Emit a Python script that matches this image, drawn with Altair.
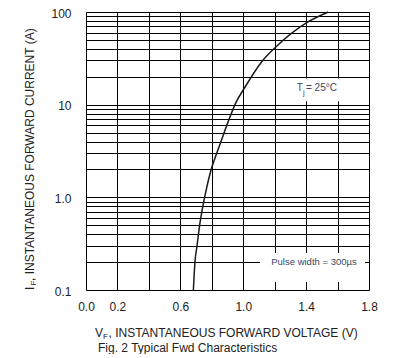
import altair as alt
import pandas as pd

# Curve values (forward voltage V, forward current A)
vf = [0.683, 0.693, 0.706, 0.725, 0.740, 0.768, 0.800, 0.832, 0.867, 0.905,
      0.958, 1.001, 1.118, 1.209, 1.404, 1.541]
i_f = [0.1, 0.2, 0.3, 0.53, 0.75, 1.28, 2.1, 3.0, 4.4, 6.6,
       10.9, 14.5, 29.1, 42.2, 76.8, 100.0]

# Grid / tick values
x_grid = [0.0, 0.2, 0.4, 0.6, 0.8, 1.0, 1.2, 1.4, 1.6, 1.8]
x_hidden = ["0.4", "0.8", "1.2", "1.6"]
y_grid = [0.1, 0.2, 0.3, 0.4, 0.5, 0.6, 0.7, 0.8, 0.9,
          1, 2, 3, 4, 5, 6, 7, 8, 9,
          10, 20, 30, 40, 50, 60, 70, 80, 90, 100]

# Annotation boxes (white background behind labels) in data units
box_x0 = [1.31, 1.107]
box_x1 = [1.63, 1.775]
box_y0 = [10.9, 0.122]
box_y1 = [19.2, 0.25]

FONT = "Liberation Sans"
TXT = "#222222"
ANN = "#3c4660"

curve_df = pd.DataFrame({"volt": vf, "cur": i_f})
box_df = pd.DataFrame({"volt": box_x0, "volt2": box_x1, "cur": box_y0, "cur2": box_y1})

xscale = alt.Scale(domain=[0, 1.8], nice=False, zero=False)
yscale = alt.Scale(type="log", domain=[0.1, 100], nice=False)

hidden_list = "[" + ",".join("'" + h + "'" for h in x_hidden) + "]"
xaxis = alt.Axis(
    values=x_grid, grid=True, gridColor="black", gridWidth=1, gridOpacity=1,
    domain=False, ticks=False, title=None, labelFlush=False, labelOverlap=False,
    labelExpr="indexof(" + hidden_list + ", format(datum.value, '.1f')) >= 0 ? '' : format(datum.value, '.1f')",
    labelPadding=11, labelFontSize=12, labelFont=FONT, labelColor=TXT,
)
yaxis = alt.Axis(
    values=y_grid, grid=True, gridColor="black", gridWidth=1, gridOpacity=1,
    domain=False, ticks=False, title=None, labelFlush=False, labelOverlap=False,
    labelOffset=1,
    labelExpr="datum.value == 0.1 ? '0.1' : datum.value == 1 ? '1.0' : datum.value == 10 ? '10' : datum.value == 100 ? '100' : ''",
    labelPadding=15, labelFontSize=12, labelFont=FONT, labelColor=TXT,
)

boxes = alt.Chart(box_df).mark_rect(color="white", opacity=1).encode(
    x=alt.X("volt:Q", scale=xscale, axis=xaxis),
    x2="volt2:Q",
    y=alt.Y("cur:Q", scale=yscale, axis=yaxis),
    y2="cur2:Q",
)

curve = alt.Chart(curve_df).mark_line(
    color="#1a1a1a", strokeWidth=1.5, interpolate="monotone"
).encode(
    x=alt.X("volt:Q", scale=xscale, axis=xaxis),
    y=alt.Y("cur:Q", scale=yscale, axis=yaxis),
)

# In-plot annotations (data coordinates)
ann_df = pd.DataFrame({
    "volt": [1.340, 1.381, 1.399, 1.450],
    "cur": [15.0, 13.4, 15.0, 0.2],
    "txt": ["T", "j", "= 25°C", "Pulse width = 300µs"],
    "size": [10, 7.5, 10, 9.5],
    "al": ["left", "left", "left", "center"],
})

def ann(row):
    return alt.Chart(pd.DataFrame([row])).mark_text(
        font=FONT, fontSize=row["size"], color=ANN, align=row["al"], baseline="middle"
    ).encode(
        x=alt.X("volt:Q", scale=xscale, axis=xaxis),
        y=alt.Y("cur:Q", scale=yscale, axis=yaxis),
        text="txt:N",
    )

ann_layers = [ann(r) for r in ann_df.to_dict("records")]

# Axis titles with subscripts and caption (pixel positions relative to plot)
def ptext(txt, x, y, size=12, angle=0, align="left", color=TXT):
    kw = dict(font=FONT, fontSize=size, color=color, align=align, baseline="middle")
    if angle:
        kw["angle"] = angle
    return alt.Chart(pd.DataFrame({"t": [txt]})).mark_text(**kw).encode(
        x=alt.value(x), y=alt.value(y), text="t:N"
    )

titles = [
    ptext("I", -56, 278, angle=270),
    ptext("F", -52, 273.6, size=8, angle=270),
    ptext(", INSTANTANEOUS FORWARD CURRENT (A)", -56, 269, angle=270),
    ptext("V", 9, 321),
    ptext("F", 17, 325, size=8),
    ptext(", INSTANTANEOUS FORWARD VOLTAGE (V)", 22.5, 321),
    ptext("Fig. 2  Typical Fwd Characteristics", 12, 336),
]

chart = alt.layer(boxes, curve, *ann_layers, *titles).properties(
    width=283, height=278,
    autosize=alt.AutoSizeParams(type="none"),
    padding={"left": 78, "top": 4, "right": 20, "bottom": 64},
).configure_view(stroke="black", strokeWidth=1.5).configure(background="white")

chart.save("out.html", embed_options={"renderer": "svg", "actions": False})
